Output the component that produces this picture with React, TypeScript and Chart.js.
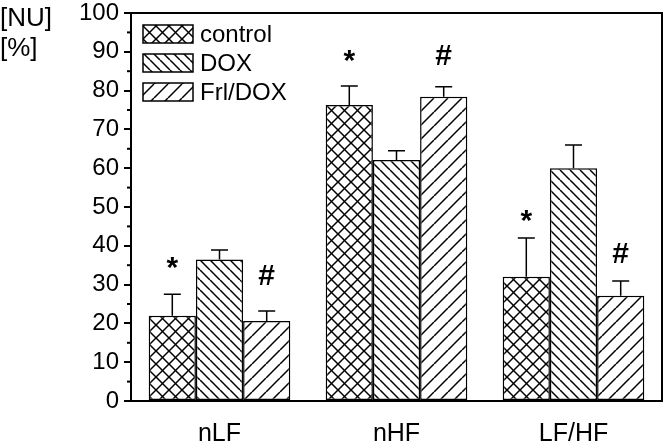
import React, { useEffect, useRef } from 'react';
import { Chart, registerables } from 'chart.js';

Chart.register(...registerables);

const categories = ['nLF', 'nHF', 'LF/HF'];
const seriesNames = ['control', 'DOX', 'Frl/DOX'];
const controlValues = [22.0, 76.3, 32.0];
const doxValues = [36.5, 62.1, 60.0];
const frlDoxValues = [20.6, 78.4, 27.1];
const controlErrors = [5.5, 4.9, 10.0];
const doxErrors = [2.4, 2.4, 6.0];
const frlDoxErrors = [2.6, 2.6, 3.8];
// significance marks: symbol and the y-level (axis units) at which it sits
const controlMarks = ['*', '*', '*'];
const controlMarkLevels = [35.6, 88.9, 47.7];
const frlDoxMarks = ['#', '#', '#'];
const frlDoxMarkLevels = [32.5, 89.2, 38.1];
const yTicks = [0, 10, 20, 30, 40, 50, 60, 70, 80, 90, 100];
const yMinorTicks = [5, 15, 25, 35, 45, 55, 65, 75, 85, 95];

const FONT = '"Liberation Sans", Arial, sans-serif';

function makePattern(kind: 'cross' | 'back' | 'fwd', p: number): CanvasPattern | string {
  const c = document.createElement('canvas');
  c.width = p;
  c.height = p;
  const g = c.getContext('2d');
  if (!g) return '#fff';
  g.fillStyle = '#fff';
  g.fillRect(0, 0, p, p);
  g.strokeStyle = '#000';
  g.lineWidth = 1.5;
  const back = () => {
    for (const o of [-p, 0, p]) {
      g.beginPath();
      g.moveTo(o, 0);
      g.lineTo(o + p, p);
      g.stroke();
    }
  };
  const fwd = () => {
    for (const o of [-p, 0, p]) {
      g.beginPath();
      g.moveTo(o, p);
      g.lineTo(o + p, 0);
      g.stroke();
    }
  };
  if (kind === 'cross') {
    back();
    fwd();
  } else if (kind === 'back') back();
  else fwd();
  return g.createPattern(c, 'repeat') || '#fff';
}

export default function App() {
  const ref = useRef<HTMLCanvasElement | null>(null);

  useEffect(() => {
    const canvas = ref.current;
    if (!canvas) return;
    const patterns = [makePattern('cross', 13), makePattern('back', 10), makePattern('fwd', 14)];
    const values = [controlValues, doxValues, frlDoxValues];
    const errors = [controlErrors, doxErrors, frlDoxErrors];
    const marks: (string[] | null)[] = [controlMarks, null, frlDoxMarks];
    const markLevels: (number[] | null)[] = [controlMarkLevels, null, frlDoxMarkLevels];

    const overlay = {
      id: 'overlay',
      afterDatasetsDraw(chart: any) {
        const ctx: CanvasRenderingContext2D = chart.ctx;
        const ys = chart.scales.y;
        const area = chart.chartArea;
        ctx.save();
        // error bars
        ctx.strokeStyle = '#000';
        ctx.lineWidth = 1.5;
        chart.data.datasets.forEach((ds: any, i: number) => {
          const meta = chart.getDatasetMeta(i);
          meta.data.forEach((bar: any, j: number) => {
            const top = ys.getPixelForValue(values[i][j] + errors[i][j]);
            ctx.beginPath();
            ctx.moveTo(bar.x, bar.y);
            ctx.lineTo(bar.x, top);
            ctx.moveTo(bar.x - 8.5, top);
            ctx.lineTo(bar.x + 8.5, top);
            ctx.stroke();
            const m = marks[i];
            const lv = markLevels[i];
            if (m && lv) {
              ctx.fillStyle = '#000';
              ctx.font = `bold 30px ${FONT}`;
              ctx.textAlign = 'center';
              ctx.textBaseline = 'alphabetic';
              const tm = ctx.measureText(m[j]);
              const cy = ys.getPixelForValue(lv[j]);
              const base = cy + (tm.actualBoundingBoxAscent - tm.actualBoundingBoxDescent) / 2;
              ctx.fillText(m[j], bar.x, base);
            }
          });
        });
        // minor ticks
        ctx.lineWidth = 2;
        yMinorTicks.forEach((v) => {
          const y = ys.getPixelForValue(v);
          ctx.beginPath();
          ctx.moveTo(area.left - 4, y);
          ctx.lineTo(area.left, y);
          ctx.stroke();
        });
        // frame
        ctx.lineWidth = 2;
        ctx.strokeRect(area.left, area.top, area.right - area.left, area.bottom - area.top);
        // legend
        const bx = area.left + 12;
        const by = area.top + 12;
        chart.data.datasets.forEach((ds: any, i: number) => {
          const y0 = by + i * 29;
          ctx.fillStyle = ds.backgroundColor;
          ctx.fillRect(bx, y0, 50, 18);
          ctx.lineWidth = 1.5;
          ctx.strokeStyle = '#000';
          ctx.strokeRect(bx, y0, 50, 18);
          ctx.fillStyle = '#000';
          ctx.font = `24px ${FONT}`;
          ctx.textAlign = 'left';
          ctx.textBaseline = 'middle';
          ctx.fillText(ds.label, bx + 57, y0 + 10);
        });
        // unit labels
        ctx.font = `26px ${FONT}`;
        ctx.textAlign = 'left';
        ctx.textBaseline = 'alphabetic';
        ctx.fillText('[NU]', 0, 26);
        ctx.fillText('[%]', 0, 56);
        ctx.restore();
      },
    };

    const chart = new Chart(canvas, {
      type: 'bar',
      data: {
        labels: categories,
        datasets: seriesNames.map((name, i) => ({
          label: name,
          data: values[i],
          backgroundColor: patterns[i] as any,
          borderColor: '#000',
          borderWidth: 1.5,
          borderSkipped: false,
          categoryPercentage: 0.8,
          barPercentage: 1.0,
        })),
      },
      options: {
        responsive: false,
        animation: false,
        devicePixelRatio: 1,
        layout: { padding: { top: 13, right: 3, left: 0, bottom: 0 } },
        plugins: { legend: { display: false }, tooltip: { enabled: false } },
        scales: {
          x: {
            grid: { display: false, drawTicks: false },
            border: { display: false },
            ticks: { color: '#000', font: { family: FONT, size: 25 }, padding: 18 },
            afterFit: (s: any) => {
              s.height = 42;
              s.paddingLeft = 0;
              s.paddingRight = 0;
            },
          },
          y: {
            min: 0,
            max: 100,
            afterBuildTicks: (s: any) => {
              s.ticks = yTicks.map((v) => ({ value: v }));
            },
            grid: { drawOnChartArea: false, drawTicks: true, tickLength: 7, color: '#000', lineWidth: 2 },
            border: { display: true, color: '#000', width: 2 },
            ticks: { color: '#000', font: { family: FONT, size: 24 }, padding: 5 },
            afterFit: (s: any) => {
              s.width = 131;
              s.paddingTop = 0;
              s.paddingBottom = 0;
            },
          },
        },
      },
      plugins: [overlay],
    });
    return () => chart.destroy();
  }, []);

  return (
    <div style={{ position: 'fixed', left: 0, top: 0, width: 665, height: 443, background: '#fff' }}>
      <canvas ref={ref} width={665} height={443} style={{ display: 'block' }} />
    </div>
  );
}
